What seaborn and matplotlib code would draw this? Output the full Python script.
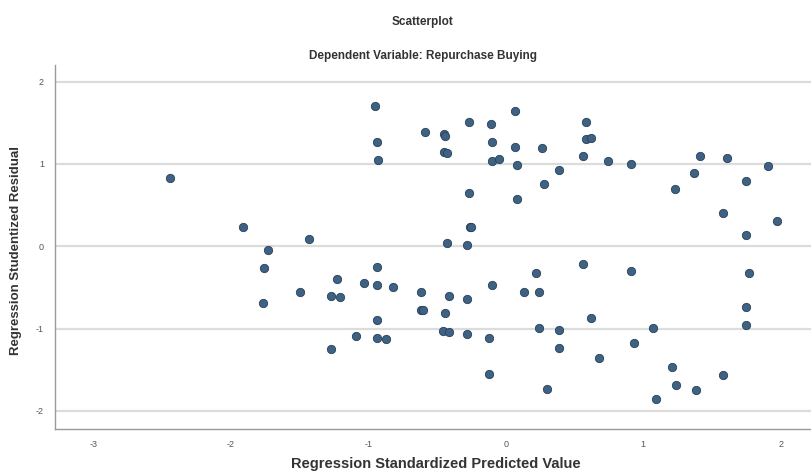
import matplotlib
matplotlib.use("Agg")
import matplotlib.pyplot as plt
import seaborn as sns
import pandas as pd

# Standardized predicted values (x) and studentized residuals (y)
predicted = [
    -2.44, -1.91, -1.73, -1.76, -1.77, -1.43, -1.50, -1.23, -1.27, -1.21,
    -1.27, -1.09, -1.03, -0.95, -0.94, -0.93, -0.94, -0.94, -0.94, -0.94,
    -0.87, -0.82, -0.62, -0.62, -0.60, -0.59, -0.45, -0.44, -0.45, -0.43,
    -0.43, -0.44, -0.46, -0.41, -0.41, -0.28, -0.28, -0.28, -0.27, -0.27,
    -0.26, -0.25, -0.12, -0.12, -0.11, -0.10, -0.10, -0.05, -0.10, 0.063,
    0.065, 0.08, 0.078, 0.13, 0.22, 0.24, 0.24, 0.26, 0.28, 0.30,
    0.39, 0.39, 0.39, 0.56, 0.56, 0.58, 0.58, 0.62, 0.62, 0.68,
    0.74, 0.91, 0.91, 0.93, 1.07, 1.09, 1.21, 1.23, 1.24, 1.37,
    1.38, 1.41, 1.58, 1.58, 1.61, 1.745, 1.745, 1.77, 1.75, 1.75,
    1.91, 1.97,
]
residual = [
    0.83, 0.23, -0.05, -0.26, -0.69, 0.09, -0.55, -0.40, -0.60, -0.62,
    -1.25, -1.09, -0.45, 1.70, 1.26, 1.045, -0.25, -0.47, -0.89, -1.11,
    -1.13, -0.50, -0.55, -0.77, -0.77, 1.39, 1.36, 1.34, 1.14, 1.13,
    0.045, -0.81, -1.03, -1.04, -0.61, -0.64, -1.07, 0.01, 1.51, 0.65,
    0.23, 0.23, -1.11, -1.55, 1.48, 1.26, 1.03, 1.06, -0.47, 1.64,
    1.21, 0.99, 0.57, -0.56, -0.33, -0.55, -0.99, 1.19, 0.76, -1.74,
    0.92, -1.02, -1.24, -0.21, 1.09, 1.51, 1.30, 1.32, -0.87, -1.36,
    1.04, 1.00, -0.30, -1.18, -0.99, -1.86, -1.47, 0.70, -1.69, 0.89,
    -1.75, 1.09, 0.40, -1.57, 1.07, 0.79, 0.14, -0.32, -0.74, -0.96,
    0.97, 0.31,
]
x_ticks = [-3, -2, -1, 0, 1, 2]
y_ticks = [-2, -1, 0, 1, 2]

df = pd.DataFrame({"predicted": predicted, "residual": residual})

sns.set_theme(style="white")
plt.rcParams["font.family"] = ["Liberation Sans", "DejaVu Sans"]
plt.rcParams["axes.unicode_minus"] = False

fig = plt.figure(figsize=(8.11, 4.75), dpi=100)
ax = fig.add_axes([0.0678, 0.0968, 0.9322, 0.7662])

ax.yaxis.grid(True, color="#dcdcdc", linewidth=1.6, zorder=0)
ax.set_axisbelow(True)

sns.scatterplot(data=df, x="predicted", y="residual", ax=ax,
                s=36, color="#3e6284", edgecolor="#2a4058", linewidth=0.6,
                zorder=3)

ax.set_xlim(-3.28, 2.22)
ax.set_ylim(-2.22, 2.2)
ax.set_xticks(x_ticks)
ax.set_yticks(y_ticks)
ax.tick_params(axis="both", labelsize=6.5, colors="#555555", length=0, pad=8)

for side in ["top", "right"]:
    ax.spines[side].set_visible(False)
for side in ["left", "bottom"]:
    ax.spines[side].set_color("#9a9a9a")
    ax.spines[side].set_linewidth(1.0)

ax.set_xlabel("Regression Standardized Predicted Value", fontsize=10.5,
              fontweight="bold", color="#333333")
ax.xaxis.set_label_coords(0.504, -0.096)
ax.xaxis.label.set_va("center")

ax.set_ylabel("Regression Studentized Residual", fontsize=9.5,
              fontweight="bold", color="#333333")
ax.yaxis.set_label_coords(-0.052, 0.49)
ax.yaxis.label.set_va("center")

fig.text(0.521, 0.953, "Scatterplot", ha="center", va="center",
         fontsize=8.5, fontweight="bold", color="#333333")
fig.text(0.521, 0.882, "Dependent Variable: Repurchase Buying", ha="center",
         va="center", fontsize=8.5, fontweight="bold", color="#333333")

fig.savefig("out.png", dpi=100)
